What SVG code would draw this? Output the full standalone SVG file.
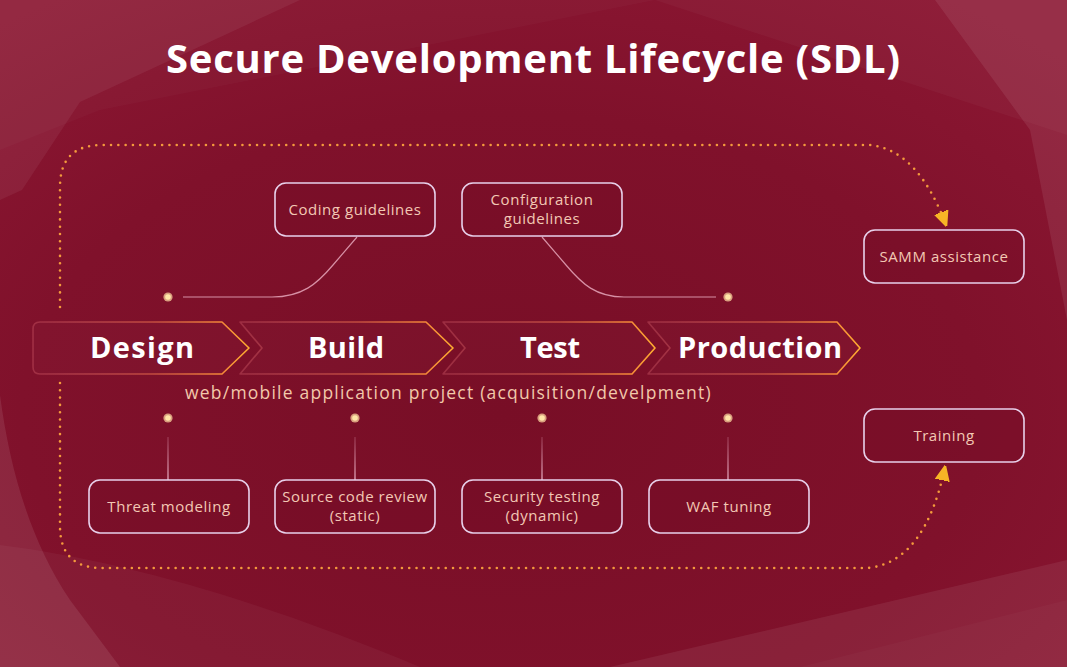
<svg xmlns="http://www.w3.org/2000/svg" width="1067" height="667" viewBox="0 0 1067 667">
<defs>
<radialGradient id="bg" cx="0.47" cy="0.62" r="0.75">
<stop offset="0" stop-color="#780e26"/>
<stop offset="0.6" stop-color="#80112b"/>
<stop offset="1" stop-color="#8c1733"/>
</radialGradient>
<linearGradient id="chev" x1="0" y1="0" x2="1" y2="0">
<stop offset="0" stop-color="#e8707a" stop-opacity="0.3"/>
<stop offset="0.55" stop-color="#e56a4a" stop-opacity="0.65"/>
<stop offset="0.88" stop-color="#f58a38"/>
<stop offset="1" stop-color="#ffad30"/>
</linearGradient>
<linearGradient id="vline" gradientUnits="userSpaceOnUse" x1="0" y1="437" x2="0" y2="480">
<stop offset="0" stop-color="#f0b0c8" stop-opacity="0.25"/>
<stop offset="1" stop-color="#f4c0d4" stop-opacity="0.95"/>
</linearGradient>
<marker id="arr" viewBox="0 0 10 10" refX="9" refY="5" markerWidth="15" markerHeight="15" markerUnits="userSpaceOnUse" orient="auto">
<path d="M0,0.5 L10,5 L0,9.5 Z" fill="#f7b526" stroke="#f7b526" stroke-width="1" stroke-linejoin="round"/>
</marker>
<style>
.title{font-family:"Open Sans","Liberation Sans",sans-serif;font-weight:700;font-size:40px;fill:#ffffff;}
.stage{font-family:"Open Sans","Liberation Sans",sans-serif;font-weight:700;font-size:29px;fill:#ffffff;text-anchor:middle;}
.sub{font-family:"Open Sans","Liberation Sans",sans-serif;font-size:17.5px;fill:#f2c8aa;text-anchor:middle;letter-spacing:0.3px;}
.lbl{font-family:"Open Sans","Liberation Sans",sans-serif;font-size:15px;fill:#f3c8b4;text-anchor:middle;letter-spacing:0.55px;}
.box{fill:#740c25;fill-opacity:0.35;stroke:#e8d0ea;stroke-width:1.6;}
.chev{fill:#ffffff;fill-opacity:0.015;stroke:url(#chev);stroke-width:1.6;stroke-linejoin:round;}
.dotted{fill:none;stroke:#f39a3c;stroke-width:2.6;stroke-linecap:round;stroke-dasharray:0 7.3;}
.conn{fill:none;stroke:#eeb0c4;stroke-width:1.2;stroke-opacity:0.8;}
.vconn{fill:none;stroke:url(#vline);stroke-width:1.2;}
.dot-o{fill:#d9a07f;}
.dot-i{fill:#ffe6a8;}
</style>
</defs>

<g id="background">
<rect x="0" y="0" width="1067" height="667" fill="url(#bg)"/>
<polygon points="0,0 655,0 100,110 0,150" fill="#ffffff" fill-opacity="0.025"/>
<polygon points="0,0 300,0 80,102 22,190 0,200" fill="#ffffff" fill-opacity="0.06"/>
<polygon points="655,0 1067,0 1067,135" fill="#ffffff" fill-opacity="0.03"/>
<polygon points="935,0 1067,0 1067,320 1030,130" fill="#ffffff" fill-opacity="0.08"/>
<path d="M0,395 C10,470 30,540 70,600 L120,667 L0,667 Z" fill="#ffffff" fill-opacity="0.09"/>
<path d="M0,545 C120,560 260,600 420,667 L0,667 Z" fill="#ffffff" fill-opacity="0.04"/>
<polygon points="610,667 1067,560 1067,667" fill="#ffffff" fill-opacity="0.07"/>
<polygon points="800,667 1067,600 1067,667" fill="#ffffff" fill-opacity="0.025"/>
</g>

<text class="title" x="533" y="73" text-anchor="middle" textLength="734">Secure Development Lifecycle (SDL)</text>

<g id="connectors">
<path class="dotted" d="M60,307 V187 Q60,145 102,145 H870 Q918,150 946,225" marker-end="url(#arr)"/>
<path class="dotted" d="M60,383 V526 Q60,568 102,568 H868 Q925,562 945,467" marker-end="url(#arr)"/>
<path class="conn" d="M183,297 L272,297 C302,297 317,284 333,265 L357,237"/>
<path class="conn" d="M542,237 L566,265 C582,284 596,297 624,297 L716,297"/>
<line class="vconn" x1="168" y1="437" x2="168" y2="480"/>
<line class="vconn" x1="355" y1="437" x2="355" y2="480"/>
<line class="vconn" x1="542" y1="437" x2="542" y2="480"/>
<line class="vconn" x1="728" y1="437" x2="728" y2="480"/>
</g>

<g id="dots">
<circle class="dot-o" cx="168" cy="297" r="4.6"/><circle class="dot-i" cx="168" cy="297" r="2.8"/>
<circle class="dot-o" cx="728" cy="297" r="4.6"/><circle class="dot-i" cx="728" cy="297" r="2.8"/>
<circle class="dot-o" cx="168" cy="418" r="4.6"/><circle class="dot-i" cx="168" cy="418" r="2.8"/>
<circle class="dot-o" cx="355" cy="418" r="4.6"/><circle class="dot-i" cx="355" cy="418" r="2.8"/>
<circle class="dot-o" cx="542" cy="418" r="4.6"/><circle class="dot-i" cx="542" cy="418" r="2.8"/>
<circle class="dot-o" cx="728" cy="418" r="4.6"/><circle class="dot-i" cx="728" cy="418" r="2.8"/>
</g>

<g id="stage-design">
<path class="chev" d="M40,322 H222 L249,348 L222,374 H40 Q33,374 33,367 V329 Q33,322 40,322 Z"/>
<text class="stage" x="142" y="358" textLength="104">Design</text>
</g>
<g id="stage-build">
<path class="chev" d="M240,322 H426 L453,348 L426,374 H240 L262,348 Z"/>
<text class="stage" x="346" y="358" textLength="76">Build</text>
</g>
<g id="stage-test">
<path class="chev" d="M443,322 H632 L655,348 L632,374 H443 L465,348 Z"/>
<text class="stage" x="550" y="358" textLength="60">Test</text>
</g>
<g id="stage-production">
<path class="chev" d="M648,322 H837 L860,348 L837,374 H648 L670,348 Z"/>
<text class="stage" x="760" y="358" textLength="164">Production</text>
</g>

<text class="sub" x="448" y="399" textLength="526">web/mobile application project (acquisition/develpment)</text>

<g id="coding-guidelines">
<rect class="box" x="275" y="183" width="160" height="53" rx="11"/>
<text class="lbl" x="355" y="215">Coding guidelines</text>
</g>
<g id="configuration-guidelines">
<rect class="box" x="462" y="183" width="160" height="53" rx="11"/>
<text class="lbl" x="542" y="205">Configuration</text>
<text class="lbl" x="542" y="224">guidelines</text>
</g>
<g id="samm-assistance">
<rect class="box" x="864" y="230" width="160" height="53" rx="11"/>
<text class="lbl" x="944" y="262">SAMM assistance</text>
</g>
<g id="training">
<rect class="box" x="864" y="409" width="160" height="53" rx="11"/>
<text class="lbl" x="944" y="441">Training</text>
</g>
<g id="threat-modeling">
<rect class="box" x="89" y="480" width="160" height="53" rx="11"/>
<text class="lbl" x="169" y="512">Threat modeling</text>
</g>
<g id="source-code-review">
<rect class="box" x="275" y="480" width="160" height="53" rx="11"/>
<text class="lbl" x="355" y="502">Source code review</text>
<text class="lbl" x="355" y="521">(static)</text>
</g>
<g id="security-testing">
<rect class="box" x="462" y="480" width="160" height="53" rx="11"/>
<text class="lbl" x="542" y="502">Security testing</text>
<text class="lbl" x="542" y="521">(dynamic)</text>
</g>
<g id="waf-tuning">
<rect class="box" x="649" y="480" width="160" height="53" rx="11"/>
<text class="lbl" x="729" y="512">WAF tuning</text>
</g>
</svg>
